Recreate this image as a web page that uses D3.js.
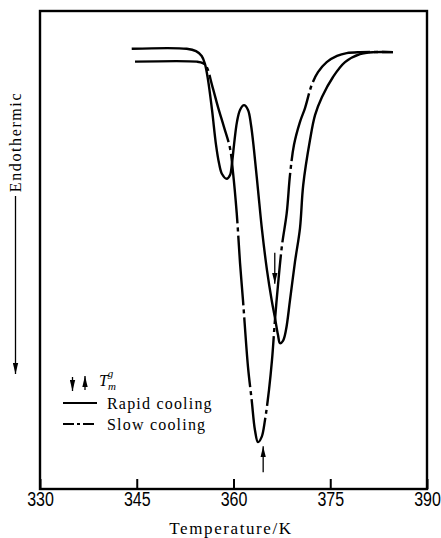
<!DOCTYPE html>
<html>
<head>
<meta charset="utf-8">
<script src="https://cdn.jsdelivr.net/npm/d3@7"></script>
<style>
  html, body { margin: 0; padding: 0; background: #fff; }
  svg { display: block; }
</style>
</head>
<body>
<div id="chart"></div>
<script>
// DSC traces: temperature (K) and relative heat flow (arbitrary units, endotherm down)
const rapidT = [344.22, 352.74, 354.19, 355.07, 355.58, 356.05, 356.67, 357.29, 357.75, 358.22,
  358.95, 359.46, 359.77, 360.08, 360.54, 361.01, 361.63, 362.25, 362.71, 363.18,
  363.80, 364.42, 365.19, 365.92, 366.43, 366.90, 367.21, 367.67, 368.14, 368.76,
  369.53, 370.31, 370.81, 371.86, 372.64, 373.72, 375.43, 377.29, 379.61, 381.94, 384.73];
const rapidQ = [92.1, 92.1, 91.6, 90.6, 88.9, 85.6, 79.3, 72.0, 68.2, 65.9,
  64.9, 65.7, 68.2, 72.0, 76.8, 79.3, 80.3, 79.3, 76.2, 70.9,
  62.6, 54.2, 45.8, 39.5, 35.8, 32.2, 30.5, 31.0, 33.3, 39.5,
  47.5, 54.6, 63.6, 73.0, 78.2, 82.0, 86.2, 89.3, 91.0, 91.4, 91.4];

const slowT = [344.73, 354.30, 355.27, 355.84, 356.67, 357.60, 358.53, 359.46, 359.92, 360.50,
  361.01, 361.47, 362.25, 362.82, 363.33, 363.80, 364.37, 364.88, 365.50, 365.97,
  366.43, 366.90, 367.52, 368.25, 368.76, 369.38, 370.31, 371.09, 372.12, 373.10,
  374.45, 376.05, 377.55, 379.61, 384.73];
const slowQ = [89.4, 89.4, 89.1, 88.3, 84.5, 79.9, 75.7, 71.3, 66.3, 57.7,
  47.3, 39.5, 25.5, 18.6, 12.3, 9.8, 10.9, 14.4, 20.7, 27.0,
  35.4, 42.7, 51.0, 57.7, 65.7, 72.0, 76.8, 79.7, 84.5, 87.2,
  89.3, 90.6, 91.2, 91.4, 91.4];

// Glass-melting temperatures T_m^g marked by arrows
const tmRapid = 366.4;
const tmSlow = 364.6;

const xTicks = [330, 345, 360, 375, 390];
const seriesNames = ["Rapid cooling", "Slow cooling"];
const xTitle = "Temperature/K";
const yTitle = "Endothermic";

const W = 441, H = 538;
const margin = { left: 40, right: 14, top: 11, bottom: 49 };
const plotW = W - margin.left - margin.right;
const plotH = H - margin.top - margin.bottom;

const svg = d3.select("#chart").append("svg")
  .attr("width", W).attr("height", H);

const x = d3.scaleLinear().domain([330, 390]).range([margin.left, margin.left + plotW]);
const y = d3.scaleLinear().domain([0, 100]).range([margin.top + plotH, margin.top]);

const serif = "'Liberation Serif', 'DejaVu Serif', serif";

// filled arrowhead marker
const defs = svg.append("defs");
defs.append("marker")
  .attr("id", "head")
  .attr("viewBox", "0 0 11 6")
  .attr("refX", 11).attr("refY", 3)
  .attr("markerWidth", 11).attr("markerHeight", 6)
  .attr("markerUnits", "userSpaceOnUse")
  .attr("orient", "auto")
  .append("path").attr("d", "M0,0.3 L11,3 L0,5.7 Z").attr("fill", "#000");

// frame
svg.append("rect")
  .attr("x", margin.left).attr("y", margin.top)
  .attr("width", plotW).attr("height", plotH)
  .attr("fill", "none").attr("stroke", "#000").attr("stroke-width", 2.4);

// x axis with inward ticks
const xAxis = d3.axisBottom(x).tickValues(xTicks).tickSize(-10).tickPadding(3)
  .tickFormat(d3.format("d"));
const gx = svg.append("g")
  .attr("transform", `translate(0,${margin.top + plotH})`)
  .call(xAxis);
gx.select(".domain").remove();
gx.selectAll(".tick line").attr("stroke", "#000").attr("stroke-width", 2);
gx.selectAll(".tick text")
  .attr("fill", "#000")
  .attr("font-family", "'Liberation Sans', Arial, sans-serif")
  .attr("font-size", 20)
  .attr("transform", "scale(0.8,1)");

// axis titles
svg.append("text")
  .attr("x", 231).attr("y", 534)
  .attr("text-anchor", "middle")
  .attr("font-family", serif).attr("font-size", 17)
  .attr("letter-spacing", 1.6)
  .text(xTitle);

svg.append("text")
  .attr("transform", "translate(21,142) rotate(-90)")
  .attr("text-anchor", "middle")
  .attr("font-family", serif).attr("font-size", 16)
  .attr("letter-spacing", 1.6)
  .text(yTitle);

svg.append("line")
  .attr("x1", 15.5).attr("x2", 15.5).attr("y1", 196).attr("y2", 374)
  .attr("stroke", "#000").attr("stroke-width", 1.3)
  .attr("marker-end", "url(#head)");

// curves
const line = d3.line()
  .x(d => x(d[0])).y(d => y(d[1]))
  .curve(d3.curveCatmullRom.alpha(0.5));

const rapid = rapidT.map((t, i) => [t, rapidQ[i]]);
const slow = slowT.map((t, i) => [t, slowQ[i]]);

const dashCurve = "70,4,4,4";

svg.append("path")
  .datum(slow)
  .attr("d", line)
  .attr("fill", "none").attr("stroke", "#000").attr("stroke-width", 2.4)
  .attr("stroke-dasharray", dashCurve)
  .attr("stroke-linejoin", "round");

svg.append("path")
  .datum(rapid)
  .attr("d", line)
  .attr("fill", "none").attr("stroke", "#000").attr("stroke-width", 2.4)
  .attr("stroke-linejoin", "round");

// T_m^g arrows: value of a trace at a temperature, by linear lookup
function valueAt(ts, qs, t) {
  const i = d3.bisectLeft(ts, t);
  const i0 = Math.max(0, i - 1), i1 = Math.min(ts.length - 1, i);
  if (i0 === i1) return qs[i0];
  const f = (t - ts[i0]) / (ts[i1] - ts[i0]);
  return qs[i0] + f * (qs[i1] - qs[i0]);
}

function arrow(px, yFrom, yTo) {
  svg.append("line")
    .attr("x1", px).attr("x2", px).attr("y1", yFrom).attr("y2", yTo)
    .attr("stroke", "#000").attr("stroke-width", 1.3)
    .attr("marker-end", "url(#head)");
}

// rapid cooling: arrow points down onto the trace
const yR = y(valueAt(rapidT, rapidQ, tmRapid));
arrow(x(tmRapid), yR - 64, yR - 33);
// slow cooling: arrow points up towards the trace
const yS = y(valueAt(slowT, slowQ, tmSlow));
arrow(x(tmSlow), yS + 43, yS + 17);

// legend
arrow(72.5, 377, 391);
arrow(85, 390, 376);

const tm = svg.append("text")
  .attr("x", 99).attr("y", 386)
  .attr("font-family", serif).attr("font-size", 16).attr("font-style", "italic");
tm.append("tspan").text("T");
tm.append("tspan").attr("font-size", 11).attr("dy", 4).attr("dx", 0).text("m");
tm.append("tspan").attr("font-size", 11).attr("dx", -8).attr("dy", -13).text("g");

const legendRows = [
  { name: seriesNames[0], dash: null, yy: 403 },
  { name: seriesNames[1], dash: "11,3,3,3", yy: 424 }
];
legendRows.forEach(r => {
  svg.append("line")
    .attr("x1", 63).attr("x2", 97).attr("y1", r.yy).attr("y2", r.yy)
    .attr("stroke", "#000").attr("stroke-width", 2)
    .attr("stroke-dasharray", r.dash);
  svg.append("text")
    .attr("x", 107).attr("y", r.yy + 6)
    .attr("font-family", serif).attr("font-size", 16)
    .attr("letter-spacing", 1.2)
    .text(r.name);
});
</script>
</body>
</html>
